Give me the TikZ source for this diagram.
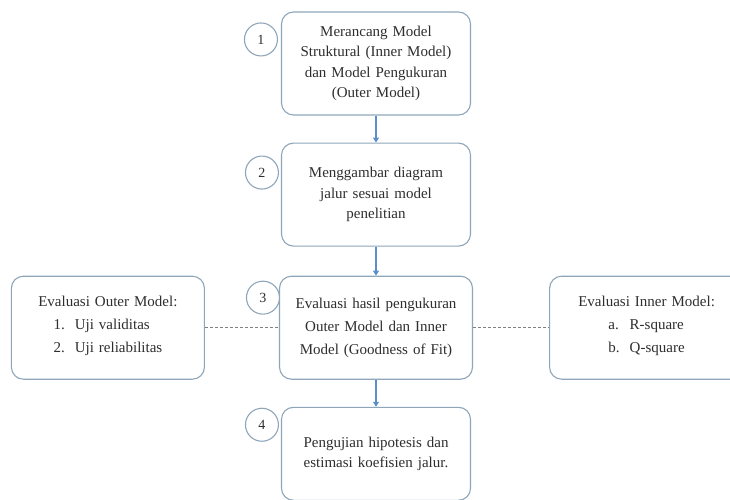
\documentclass[tikz,border=0pt]{standalone}
\usepackage{fontspec}
\setmainfont{Liberation Serif}
\usetikzlibrary{arrows.meta,positioning}
\definecolor{Frame}{HTML}{8FA6BA}
\definecolor{Flow}{HTML}{5B8FC9}
\definecolor{Ink}{HTML}{2E2E2E}
\definecolor{Dash}{HTML}{808080}
\newcommand{\steplist}[2]{%
  \begin{tabular}[t]{@{}l@{\hspace{10pt}}l@{}}#1\end{tabular}#2%
}
\tikzset{
  stage/.style={
    rounded corners=12pt,draw=Frame,line width=1.1pt,fill=white,
    minimum width=189pt,minimum height=103pt,text width=180pt,
    align=center,font=\fontsize{15}{20.5}\selectfont,text=Ink
  },
  badge/.style={
    circle,draw=Frame,line width=1.1pt,fill=white,minimum size=33pt,
    inner sep=0pt,font=\fontsize{14}{16}\selectfont,text=Ink
  },
  arrow/.style={-{Triangle[length=5pt,width=6pt]},line width=1.2pt,draw=Flow},
  link/.style={draw=Dash,line width=0.8pt,dash pattern=on 3pt off 2pt}
}

\begin{document}
\begin{tikzpicture}[x=1pt,y=1pt]
  \useasboundingbox (0,0) rectangle (730,-500);
  \node[stage] (merancang) at (376,-63.5) {
    Merancang Model\\
    Struktural (Inner Model)\\
    dan Model Pengukuran\\
    (Outer Model)
  };
  \node[stage,below=27pt of merancang] (diagram) {
    Menggambar diagram\\
    jalur sesuai model\\
    penelitian
  };
  \node[stage,minimum width=193pt,below=29pt of diagram,
    font=\fontsize{15}{23}\selectfont] (evaluasi) {
    Evaluasi hasil pengukuran\\
    Outer Model dan Inner\\
    Model (Goodness of Fit)
  };
  \node[stage,minimum height=93pt,below=27pt of evaluasi] (hipotesis) {
    Pengujian hipotesis dan\\
    estimasi koefisien jalur.
  };
  \node[stage,minimum width=193pt,left=74pt of evaluasi,
    font=\fontsize{15}{23}\selectfont] (luar) {
    Evaluasi Outer Model:\\
    \steplist{1. & Uji validitas\\ 2. & Uji reliabilitas}{}
  };
  \node[stage,minimum width=194pt,right=76pt of evaluasi,
    font=\fontsize{15}{23}\selectfont] (dalam) {
    Evaluasi Inner Model:\\
    \steplist{a. & R-square\\ b. & Q-square}{}
  };

  % nomor tahap
  \node[badge] (n1) at ([shift={(-20pt,-28pt)}]merancang.north west) {1};
  \node[badge] (n2) at ([shift={(-19pt,-30pt)}]diagram.north west) {2};
  \node[badge] (n3) at ([shift={(-16pt,-22pt)}]evaluasi.north west) {3};
  \node[badge] (n4) at ([shift={(-19pt,-18pt)}]hipotesis.north west) {4};

  \draw[arrow] (merancang) -- (diagram);
  \draw[arrow] (diagram) -- (evaluasi);
  \draw[arrow] (evaluasi) -- (hipotesis);
  \draw[link] (luar) -- (evaluasi);
  \draw[link] (evaluasi) -- (dalam);
\end{tikzpicture}
\end{document}
